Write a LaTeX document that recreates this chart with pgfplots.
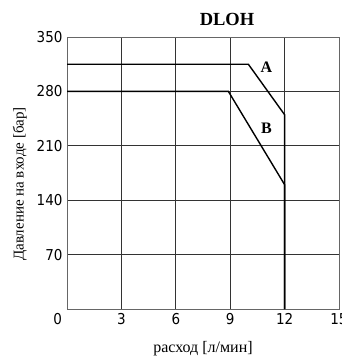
\documentclass[border=0pt]{standalone}
\usepackage{pgfplots}
\pgfplotsset{compat=1.18}
\usepackage{fontspec}
\setmainfont{Liberation Serif}
\newfontfamily\tickfont{DejaVu Sans Condensed}
\begin{document}
\begin{tikzpicture}[x=1pt,y=1pt]
\begin{axis}[
  at={(67pt,47pt)}, anchor=south west,
  scale only axis, width=272pt, height=272pt,
  xmin=0, xmax=15, ymin=0, ymax=350,
  xtick={0,3,6,9,12,15}, ytick={0,70,140,210,280,350},
  xticklabels={{\makebox[0pt][r]{0\hspace{5pt}}},3,6,9,12,15},
  yticklabels={,70,140,210,280,350},
  tick style={draw=none},
  grid=major,
  grid style={black!80, line width=0.7pt},
  axis line style={black!60, line width=1pt},
  ticklabel style={font=\fontsize{15}{15}\tickfont, text=black},
  yticklabel style={xshift=-1pt},
  xticklabel style={yshift=-1pt},
  /pgf/number format/assume math mode=true,
  xlabel={расход [л/мин]},
  ylabel={Давление на входе [бар]},
  xlabel style={font=\fontsize{16}{16}\selectfont, yshift=-10pt},
  ylabel style={font=\fontsize{15}{15}\selectfont, xshift=-11pt, yshift=3pt},
  clip=false,
]
\addplot[black, line width=1.4pt] coordinates {(0,315) (10,315) (12,250) (12,0)};
\addplot[black, line width=1.4pt] coordinates {(0,280) (8.9,280) (12,160) (12,0)};
\node[font=\fontsize{16}{16}\bfseries\selectfont] at (axis cs:11,311) {A};
\node[font=\fontsize{16}{16}\bfseries\selectfont] at (axis cs:11,232) {B};
\end{axis}
\node[font=\fontsize{18.5}{18.5}\bfseries\selectfont] at (227pt,337pt) {DLOH};
\pgfresetboundingbox
\useasboundingbox (0,0) rectangle (342pt,356pt);
\end{tikzpicture}
\end{document}
